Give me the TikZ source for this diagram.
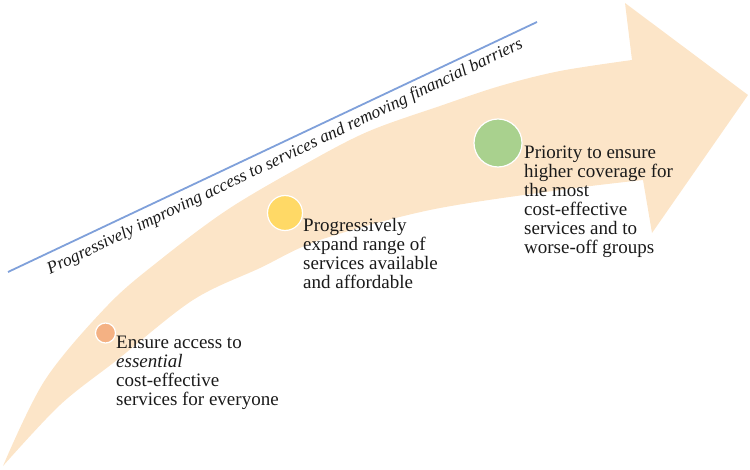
\documentclass[tikz,border=0pt]{standalone}
\usepackage{fontspec}
\setmainfont{Liberation Serif}
\definecolor{arrowfill}{RGB}{252,229,200}
\definecolor{lineblue}{RGB}{127,160,218}
\definecolor{dotorange}{RGB}{244,177,131}
\definecolor{dotyellow}{RGB}{255,217,102}
\definecolor{dotgreen}{RGB}{169,209,142}
\definecolor{txt}{RGB}{26,26,26}
\begin{document}
\begin{tikzpicture}[x=1pt,y=-1pt,
  dot/.style={circle, draw=white, line width=1.2pt, inner sep=0pt},
  blocktext/.style={anchor=base west, inner sep=0pt, align=left, text=txt,
    font=\fontsize{19}{19}\selectfont},
  slogantext/.style={anchor=base, inner sep=0pt, text=txt, rotate=25.6,
    font=\itshape\fontsize{17.4}{20}\selectfont},
  barline/.style={draw=lineblue, line width=1.8pt}]
\useasboundingbox (0,0) rectangle (750,470);
% big curved arrow
\fill[arrowfill]
  plot[smooth, tension=0.55] coordinates {(3,466) (45,380) (108,305) (160,260) (227,210) (300,167) (367,132) (440,106) (500,86) (560,71) (632,60)}
  -- (625,3) -- (748,95) -- (652,233) -- (643,180)
  -- plot[smooth, tension=0.55] coordinates {(643,180) (560,190) (430,210) (320,240) (260,268) (193,300) (117,360) (60,405) (3,466)}
  -- cycle;
% blue line and its label
\coordinate (lstart) at (8,272);
\coordinate (lend) at (537,22);
\draw[barline] (lstart) -- (lend);
\node[slogantext] (slogan) at (287,161) {Progressively improving access to services and removing financial barriers};
% dots
\node[dot, fill=dotorange, minimum size=20pt] (d1) at (105.5,333) {};
\node[dot, fill=dotyellow, minimum size=35pt] (d2) at (285,213) {};
\node[dot, fill=dotgreen, minimum size=48pt] (d3) at (498,143) {};
% texts (base = baseline of the last line)
\node[blocktext] (t1) at (116,406) {Ensure access to\\\textit{essential}\\cost-effective\\services for everyone};
\node[blocktext] (t2) at (303,289) {Progressively\\expand range of\\services available\\and affordable};
\node[blocktext] (t3) at (524,254) {Priority to ensure\\higher coverage for\\the most\\cost-effective\\services and to\\worse-off groups};
\end{tikzpicture}
\end{document}
